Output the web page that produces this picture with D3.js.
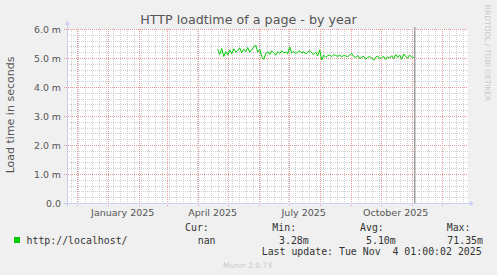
<!DOCTYPE html>
<html><head><meta charset="utf-8">
<script src="https://cdn.jsdelivr.net/npm/d3@7"></script>
<style>
html,body{margin:0;padding:0;background:#f0f0f0;}
svg{display:block;}
text{font-family:"DejaVu Sans",sans-serif;}
.mono{font-family:"DejaVu Sans Mono",monospace;}
</style></head><body>
<svg id="c" width="497" height="275"></svg>
<script>
// ---- data ----
const titleText = "HTTP loadtime of a page - by year";
const yTicks = [0, 1, 2, 3, 4, 5, 6];
const yTickLabels = ["0.0", "1.0 m", "2.0 m", "3.0 m", "4.0 m", "5.0 m", "6.0 m"];
const xLabelMonths = ["2025-01-01", "2025-04-01", "2025-07-01", "2025-10-01"];
const seriesName = "http://localhost/";
const seriesStart = "2025-04-21";
const seriesStepDays = 2;
const seriesValues = [
  5.30, 5.12, 5.33, 5.05, 5.22, 5.10,
  5.28, 5.15, 5.32, 5.20, 5.25, 5.35, 5.18, 5.30, 5.22, 5.36, 5.20, 5.28, 5.38, 5.45,
  5.20, 5.30, 5.05, 4.95, 5.15,
  5.22, 5.12, 5.25, 5.18, 5.10, 5.22, 5.15, 5.25, 5.18, 5.20, 5.15, 5.38,
  5.18, 5.22, 5.15, 5.20, 5.25, 5.17, 5.22, 5.14, 5.20, 5.25, 5.18, 5.12, 5.20,
  5.08, 5.28, 4.93, 5.10, 5.02,
  5.08, 5.10, 5.05, 5.12, 5.08, 5.06, 5.10, 5.04, 5.09, 5.07, 5.05, 5.10, 5.16,
  5.05, 5.02, 5.08, 4.98, 5.03, 5.06, 4.96, 5.02, 5.05, 5.00, 4.92, 5.03, 5.07, 4.98, 5.02, 5.05, 4.95, 5.04, 5.00,
  5.08, 4.98, 5.12, 5.02, 5.10, 4.96, 5.14, 5.05, 5.00, 5.10, 5.03, 5.02
];
const nowTime = "2025-11-04T01:00:00Z";
const domainStart = "2024-11-21T07:00:00Z";
const domainEnd = "2025-12-27T07:00:00Z";
const legendHeaders = ["Cur:", "Min:", "Avg:", "Max:"];
const legendValues = ["nan", "3.28m", "5.10m", "71.35m"];
const lastUpdate = "Last update: Tue Nov  4 01:00:02 2025";
const yTitle = "Load time in seconds";
const sideText = "RRDTOOL / TOBI OETIKER";
const footer = "Munin 2.0.73";

// ---- layout ----
const L = 67, R = 468, T = 29, B = 203;
const svg = d3.select("#c");
const x = d3.scaleUtc().domain([new Date(domainStart), new Date(domainEnd)]).range([L, R]);
const y = d3.scaleLinear().domain([0, 6]).range([B, T]);

svg.append("rect").attr("x", L).attr("y", T).attr("width", R - L).attr("height", B - T).attr("fill", "#fff");

const g = svg.append("g").attr("shape-rendering", "crispEdges");
const minorC = "#cfcfcf", majorC = "#e79a9a";
// minor horizontal grid
const minorY = d3.range(0, 30).map(i => i * 0.2).filter(v => Math.abs(v - Math.round(v)) > 1e-6);
g.selectAll(".mh").data(minorY).enter().append("line")
  .attr("x1", L).attr("x2", R).attr("y1", d => Math.round(y(d)) + 0.5).attr("y2", d => Math.round(y(d)) + 0.5)
  .attr("stroke", minorC).attr("stroke-dasharray", "1,1");
// minor vertical grid (weeks)
const weeks = d3.utcMonday.range(x.domain()[0], x.domain()[1]);
g.selectAll(".mv").data(weeks).enter().append("line")
  .attr("x1", d => Math.round(x(d)) + 0.5).attr("x2", d => Math.round(x(d)) + 0.5).attr("y1", T).attr("y2", B + 2)
  .attr("stroke", minorC).attr("stroke-dasharray", "1,1");
// major horizontal
g.selectAll(".Mh").data(yTicks.slice(1)).enter().append("line")
  .attr("x1", L - 3).attr("x2", R).attr("y1", d => Math.round(y(d)) + 0.5).attr("y2", d => Math.round(y(d)) + 0.5)
  .attr("stroke", majorC).attr("stroke-dasharray", "1,1");
// major vertical (months)
const months = d3.utcMonth.range(x.domain()[0], x.domain()[1]);
g.selectAll(".Mv").data(months).enter().append("line")
  .attr("x1", d => Math.round(x(d)) + 0.5).attr("x2", d => Math.round(x(d)) + 0.5).attr("y1", T).attr("y2", B + 3)
  .attr("stroke", majorC).attr("stroke-dasharray", "1,1");

// axes
const axc = "#c9cdf5";
svg.append("line").attr("x1", L - 3).attr("x2", R + 2).attr("y1", B + 0.5).attr("y2", B + 0.5).attr("stroke", axc);
svg.append("line").attr("x1", L + 0.5).attr("x2", L + 0.5).attr("y1", T - 4).attr("y2", B + 3).attr("stroke", axc);
svg.append("path").attr("d", `M${R + 2},${B - 2} L${R + 6},${B + 0.5} L${R + 2},${B + 3} Z`).attr("fill", axc);
svg.append("path").attr("d", `M${L - 2},${T - 4} L${L + 0.5},${T - 8} L${L + 3},${T - 4} Z`).attr("fill", axc);

// y tick labels
svg.selectAll(".yl").data(yTicks).enter().append("text")
  .attr("x", 61).attr("y", d => y(d) + 3.5).attr("text-anchor", "end")
  .attr("font-size", "9.4px").attr("fill", "#555").text((d, i) => yTickLabels[i]);

// x labels (centered mid-month)
svg.selectAll(".xl").data(xLabelMonths).enter().append("text")
  .attr("x", d => x(d3.utcDay.offset(new Date(d + "T00:00:00Z"), 15.5)))
  .attr("y", 216).attr("text-anchor", "middle").attr("font-size", "9.5px").attr("fill", "#555")
  .text(d => d3.utcFormat("%B %Y")(new Date(d + "T00:00:00Z")));

// series
const start = new Date(seriesStart + "T00:00:00Z");
const pts = seriesValues.map((v, i) => [d3.utcDay.offset(start, i * seriesStepDays), v]);
pts.push([new Date(nowTime), seriesValues[seriesValues.length - 1]]);
svg.append("path").datum(pts)
  .attr("d", d3.line().x(d => x(d[0])).y(d => y(d[1])))
  .attr("fill", "none").attr("stroke", "#00cc00").attr("stroke-width", 1);

// now rule
svg.append("line").attr("x1", x(new Date(nowTime))).attr("x2", x(new Date(nowTime)))
  .attr("y1", T - 2).attr("y2", B).attr("stroke", "#a0a0a0").attr("stroke-width", 1.5);

// title
svg.append("text").attr("x", 248.5).attr("y", 24).attr("text-anchor", "middle")
  .attr("font-size", "12.7px").attr("fill", "#555").text(titleText);
// y title
svg.append("text").attr("transform", "translate(14,115) rotate(-90)").attr("text-anchor", "middle")
  .attr("font-size", "11px").attr("fill", "#555").text(yTitle);
// side text
svg.append("text").attr("transform", "translate(485,53) rotate(90)").attr("text-anchor", "middle")
  .attr("font-size", "7.5px").attr("fill", "#c8c8c8").text(sideText);

// legend
svg.append("rect").attr("x", 14).attr("y", 237).attr("width", 6).attr("height", 6).attr("fill", "#00cc00");
svg.append("text").attr("class", "mono").attr("x", 26.5).attr("y", 243.5).attr("font-size", "9.9px").attr("fill", "#333").text(seriesName);
const hdrX = [185, 272.3, 360, 446.7];
const valX = [197.7, 279, 366, 447.3];
legendHeaders.forEach((h, i) => {
  svg.append("text").attr("class", "mono").attr("x", hdrX[i]).attr("y", 231).attr("font-size", "9.9px").attr("fill", "#333").text(h);
  svg.append("text").attr("class", "mono").attr("x", valX[i]).attr("y", 243.5).attr("font-size", "9.9px").attr("fill", "#333").text(legendValues[i]);
});
svg.append("text").attr("class", "mono").attr("x", 261.7).attr("y", 255).attr("font-size", "9.9px").attr("fill", "#333")
  .attr("xml:space", "preserve").style("white-space", "pre").text(lastUpdate);
svg.append("text").attr("x", 223).attr("y", 268).attr("font-size", "7.5px").attr("fill", "#c8c8c8").text(footer);
</script>
</body></html>
